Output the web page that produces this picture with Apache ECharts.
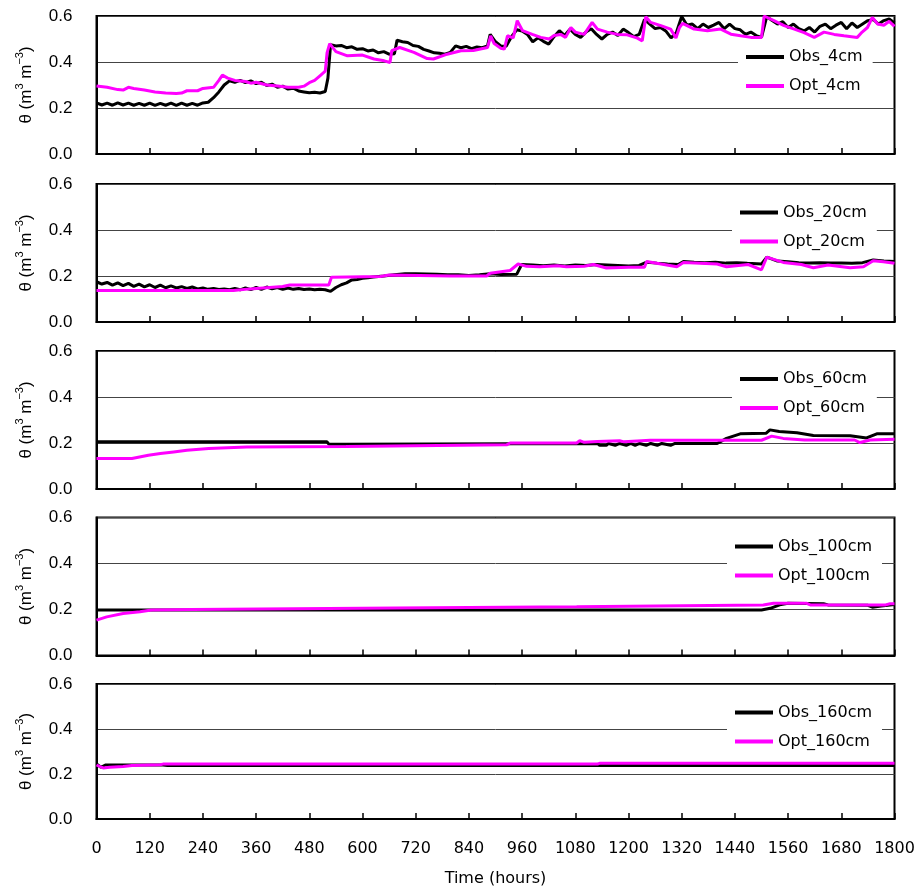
<!DOCTYPE html>
<html>
<head>
<meta charset="utf-8">
<title>Soil water content — observed vs optimised</title>
<script src="https://cdn.jsdelivr.net/npm/echarts@6/dist/echarts.min.js"></script>
<style>
  html, body { margin: 0; padding: 0; background: #fff; }
  #chart { width: 918px; height: 888px; }
</style>
</head>
<body>
<div id="chart"></div>
<script>
// Volumetric soil water content θ (m3 m-3) against time (hours), five depths.
// Each series is a list of [hour, θ] pairs.

const depths = ['4cm', '20cm', '60cm', '100cm', '160cm'];
const xTicks = [0, 120, 240, 360, 480, 600, 720, 840, 960, 1080, 1200, 1320, 1440, 1560, 1680, 1800];
const yTicks = [0.0, 0.2, 0.4, 0.6];

const obs4cm = [
  [0,0.222],[12,0.213],[24,0.221],[36,0.212],[48,0.222],[60,0.213],[72,0.221],[84,0.212],
  [96,0.220],[108,0.212],[120,0.221],[132,0.211],[144,0.220],[156,0.212],[168,0.221],[180,0.211],
  [192,0.221],[204,0.212],[216,0.220],[228,0.212],[240,0.222],[252,0.225],[264,0.245],[276,0.270],
  [288,0.300],[300,0.318],[312,0.312],[324,0.320],[336,0.310],[348,0.318],[360,0.306],[372,0.312],
  [384,0.298],[396,0.304],[408,0.290],[420,0.295],[432,0.282],[444,0.286],[456,0.274],[468,0.270],
  [480,0.266],[492,0.268],[504,0.265],[516,0.272],[522,0.330],[528,0.475],[540,0.470],[552,0.472],
  [564,0.462],[576,0.466],[588,0.455],[600,0.458],[612,0.448],[624,0.452],[636,0.440],[648,0.445],
  [660,0.434],[672,0.436],[678,0.495],[690,0.488],[702,0.485],[714,0.472],[726,0.468],[738,0.455],
  [750,0.448],[762,0.440],[774,0.438],[786,0.434],[798,0.442],[810,0.470],[822,0.462],[834,0.468],
  [846,0.458],[858,0.465],[870,0.462],[882,0.470],[888,0.520],[900,0.488],[912,0.470],[924,0.468],
  [936,0.510],[948,0.540],[960,0.535],[972,0.520],[984,0.488],[996,0.505],[1008,0.490],[1020,0.478],
  [1032,0.510],[1044,0.536],[1056,0.515],[1068,0.543],[1080,0.520],[1092,0.507],[1104,0.530],[1116,0.545],
  [1128,0.520],[1140,0.500],[1152,0.520],[1164,0.530],[1176,0.515],[1188,0.543],[1200,0.528],[1212,0.510],
  [1224,0.520],[1236,0.585],[1248,0.565],[1260,0.545],[1272,0.550],[1284,0.535],[1296,0.505],[1308,0.528],
  [1320,0.598],[1332,0.560],[1344,0.565],[1356,0.545],[1368,0.565],[1380,0.550],[1392,0.560],[1404,0.572],
  [1416,0.545],[1428,0.565],[1440,0.545],[1452,0.540],[1464,0.520],[1476,0.530],[1488,0.515],[1500,0.507],
  [1512,0.598],[1524,0.580],[1536,0.565],[1548,0.575],[1560,0.550],[1572,0.565],[1584,0.545],[1596,0.535],
  [1608,0.550],[1620,0.530],[1632,0.555],[1644,0.565],[1656,0.545],[1668,0.560],[1680,0.572],[1692,0.545],
  [1704,0.570],[1716,0.550],[1728,0.565],[1740,0.580],[1752,0.585],[1764,0.565],[1776,0.580],[1788,0.587],
  [1800,0.570]
];

const opt4cm = [
  [0,0.296],[24,0.290],[48,0.280],[60,0.278],[72,0.290],[84,0.285],[108,0.278],[132,0.270],
  [156,0.265],[180,0.263],[192,0.265],[204,0.275],[228,0.275],[240,0.285],[264,0.290],[276,0.320],
  [284,0.343],[296,0.330],[312,0.320],[336,0.315],[348,0.308],[360,0.312],[384,0.300],[408,0.296],
  [432,0.290],[456,0.290],[468,0.295],[480,0.310],[492,0.320],[504,0.340],[516,0.360],[520,0.440],
  [526,0.480],[540,0.445],[566,0.427],[600,0.430],[626,0.413],[649,0.405],[662,0.398],[666,0.449],
  [684,0.463],[716,0.442],[746,0.415],[760,0.413],[791,0.434],[822,0.449],[850,0.450],[882,0.463],
  [889,0.514],[897,0.480],[912,0.460],[920,0.456],[927,0.514],[940,0.505],[949,0.580],[961,0.536],
  [983,0.520],[1002,0.507],[1021,0.500],[1032,0.515],[1047,0.520],[1058,0.507],[1070,0.550],[1080,0.530],
  [1100,0.520],[1118,0.572],[1130,0.543],[1152,0.530],[1175,0.520],[1197,0.518],[1220,0.504],[1231,0.492],
  [1239,0.597],[1250,0.572],[1273,0.558],[1295,0.543],[1307,0.504],[1315,0.550],[1322,0.568],[1348,0.543],
  [1378,0.536],[1408,0.543],[1431,0.521],[1453,0.514],[1476,0.507],[1500,0.507],[1506,0.600],[1528,0.580],
  [1551,0.558],[1574,0.543],[1596,0.528],[1619,0.507],[1641,0.530],[1664,0.520],[1686,0.514],[1716,0.507],
  [1727,0.530],[1739,0.550],[1750,0.594],[1762,0.565],[1776,0.560],[1788,0.577],[1800,0.555]
];

const obs20cm = [
  [0,0.175],[12,0.165],[24,0.172],[36,0.160],[48,0.170],[60,0.158],[72,0.168],[84,0.155],
  [96,0.165],[108,0.153],[120,0.162],[132,0.150],[144,0.160],[156,0.149],[168,0.157],[180,0.148],
  [192,0.154],[204,0.146],[216,0.152],[228,0.144],[240,0.148],[252,0.142],[264,0.146],[276,0.141],
  [288,0.144],[300,0.140],[312,0.146],[324,0.140],[336,0.148],[348,0.141],[360,0.150],[372,0.142],
  [384,0.152],[396,0.144],[408,0.150],[420,0.142],[432,0.148],[444,0.142],[456,0.146],[468,0.141],
  [480,0.143],[492,0.140],[504,0.142],[516,0.140],[528,0.133],[540,0.150],[552,0.162],[564,0.170],
  [576,0.183],[588,0.185],[600,0.190],[612,0.192],[624,0.196],[648,0.200],[672,0.205],[696,0.210],
  [720,0.210],[744,0.209],[768,0.208],[792,0.205],[816,0.205],[840,0.202],[864,0.205],[888,0.210],
  [912,0.207],[948,0.208],[959,0.250],[984,0.248],[1008,0.245],[1032,0.248],[1056,0.244],[1080,0.248],
  [1104,0.246],[1128,0.250],[1152,0.248],[1176,0.246],[1200,0.244],[1224,0.246],[1241,0.260],[1264,0.256],
  [1288,0.252],[1312,0.250],[1324,0.263],[1348,0.260],[1372,0.258],[1396,0.260],[1420,0.256],[1444,0.258],
  [1468,0.255],[1500,0.252],[1512,0.282],[1536,0.265],[1560,0.262],[1584,0.258],[1608,0.256],[1632,0.258],
  [1656,0.256],[1680,0.256],[1704,0.255],[1728,0.258],[1752,0.270],[1776,0.265],[1800,0.263]
];

const opt20cm = [
  [0,0.137],[309,0.137],[312,0.144],[346,0.144],[350,0.151],[420,0.154],[436,0.161],[524,0.161],
  [530,0.195],[640,0.198],[660,0.204],[797,0.200],[880,0.200],[888,0.212],[933,0.224],[951,0.252],
  [970,0.242],[1000,0.240],[1040,0.245],[1060,0.240],[1100,0.242],[1121,0.250],[1150,0.235],[1200,0.238],
  [1236,0.238],[1241,0.263],[1280,0.250],[1309,0.240],[1324,0.259],[1400,0.252],[1421,0.240],[1470,0.250],
  [1500,0.227],[1512,0.282],[1549,0.259],[1590,0.250],[1617,0.236],[1650,0.248],[1700,0.236],[1730,0.240],
  [1752,0.266],[1775,0.262],[1800,0.255]
];

const obs60cm = [
  [0,0.205],[520,0.205],[524,0.195],[563,0.195],[566,0.198],[1130,0.198],[1135,0.190],[1150,0.190],
  [1155,0.198],[1170,0.190],[1180,0.198],[1195,0.190],[1205,0.198],[1215,0.190],[1225,0.198],[1240,0.190],
  [1250,0.198],[1265,0.190],[1275,0.198],[1295,0.190],[1305,0.198],[1400,0.198],[1421,0.220],[1452,0.240],
  [1510,0.242],[1519,0.257],[1540,0.250],[1580,0.245],[1617,0.233],[1700,0.232],[1737,0.222],[1760,0.240],
  [1800,0.240]
];

const opt60cm = [
  [0,0.133],[80,0.133],[84,0.140],[117,0.147],[144,0.154],[174,0.161],[204,0.168],[253,0.176],
  [339,0.183],[563,0.185],[566,0.192],[925,0.192],[933,0.200],[1083,0.200],[1090,0.210],[1100,0.203],
  [1130,0.207],[1180,0.210],[1190,0.205],[1249,0.212],[1500,0.212],[1504,0.205],[1523,0.230],[1549,0.220],
  [1597,0.213],[1710,0.213],[1722,0.202],[1745,0.213],[1800,0.216]
];

const obs100cm = [
  [0,0.198],[1500,0.198],[1520,0.205],[1541,0.220],[1560,0.227],[1640,0.225],[1650,0.220],[1740,0.218],
  [1750,0.210],[1770,0.215],[1800,0.222]
];

const opt100cm = [
  [0,0.154],[23,0.168],[60,0.183],[98,0.190],[124,0.198],[215,0.200],[219,0.206],[677,0.206],
  [680,0.212],[1083,0.212],[1087,0.220],[1504,0.220],[1527,0.227],[1602,0.227],[1610,0.220],[1780,0.220],
  [1790,0.225],[1800,0.225]
];

const obs160cm = [
  [0,0.245],[10,0.230],[20,0.240],[150,0.240],[160,0.238],[1800,0.238]
];

const opt160cm = [
  [0,0.240],[15,0.227],[30,0.230],[60,0.233],[80,0.238],[143,0.241],[150,0.244],[1130,0.244],
  [1136,0.248],[1800,0.248]
];

const obsSeries = [obs4cm, obs20cm, obs60cm, obs100cm, obs160cm];
const optSeries = [opt4cm, opt20cm, opt60cm, opt100cm, opt160cm];

// Layout of the five stacked panels
const panelTops = [16, 184, 351, 517.5, 684];
const panelHeight = 138;
const legendTops = [43, 198.5, 365, 532.5, 698.5];
const legendLefts = [738, 732, 732, 727, 727];

const obsColor = '#000000';
const optColor = '#ff00ff';

const grids = [], xAxes = [], yAxes = [], series = [], legends = [];

depths.forEach((d, i) => {
  const last = i === depths.length - 1;
  grids.push({
    left: 96.5, right: 23.5, top: panelTops[i], height: panelHeight,
    show: true, borderColor: '#000', borderWidth: 2, backgroundColor: 'transparent'
  });
  xAxes.push({
    type: 'value', gridIndex: i, min: xTicks[0], max: xTicks[xTicks.length - 1], interval: 120,
    axisLine: { show: true, lineStyle: { color: '#000', width: 2 } },
    axisTick: { show: true, inside: true, length: 6, lineStyle: { color: '#000', width: 1.5 } },
    splitLine: { show: false },
    axisLabel: {
      show: last, margin: 22, color: '#000', fontSize: 16, fontFamily: 'DejaVu Sans',
      formatter: v => String(v)
    },
    name: last ? 'Time (hours)' : '',
    nameLocation: 'middle', nameGap: 52,
    nameTextStyle: { color: '#000', fontSize: 16, fontFamily: 'DejaVu Sans' }
  });
  yAxes.push({
    type: 'value', gridIndex: i, min: yTicks[0], max: yTicks[yTicks.length - 1], interval: 0.2,
    axisLine: { show: true, lineStyle: { color: '#000', width: 2 } },
    axisTick: { show: false },
    splitLine: { show: true, lineStyle: { color: '#444', width: 1 } },
    axisLabel: {
      margin: 24, color: '#000', fontSize: 17, fontFamily: 'Liberation Sans',
      formatter: v => v.toFixed(1)
    },
    name: '{a|θ (m}{s|3}{a| m}{s|−3}{a|)}',
    nameLocation: 'middle', nameRotate: 90, nameGap: 58,
    nameTextStyle: {
      rich: {
        a: { fontSize: 17, fontFamily: 'Liberation Sans', color: '#000', lineHeight: 24, verticalAlign: 'middle' },
        s: { fontSize: 11, fontFamily: 'Liberation Sans', color: '#000', verticalAlign: 'top' }
      }
    }
  });
  series.push({
    name: 'Obs_' + d, type: 'line', xAxisIndex: i, yAxisIndex: i,
    data: obsSeries[i], symbol: 'none', z: 2,
    lineStyle: { color: obsColor, width: 3 }, itemStyle: { color: obsColor }
  });
  series.push({
    name: 'Opt_' + d, type: 'line', xAxisIndex: i, yAxisIndex: i,
    data: optSeries[i], symbol: 'none', z: 3,
    lineStyle: { color: optColor, width: 3 }, itemStyle: { color: optColor }
  });
  legends.push({
    data: ['Obs_' + d, 'Opt_' + d],
    orient: 'vertical', left: legendLefts[i], top: legendTops[i],
    backgroundColor: '#fff', padding: [6, 10, 6, 8],
    icon: 'rect', itemWidth: 38, itemHeight: 4, itemGap: 13,
    textStyle: { color: '#000', fontSize: 16, fontFamily: 'DejaVu Sans', lineHeight: 16 },
    selectedMode: false
  });
});

const chart = echarts.init(document.getElementById('chart'), null, { renderer: 'canvas' });
chart.setOption({
  animation: false,
  backgroundColor: '#fff',
  grid: grids, xAxis: xAxes, yAxis: yAxes, legend: legends, series: series
});
</script>
</body>
</html>
